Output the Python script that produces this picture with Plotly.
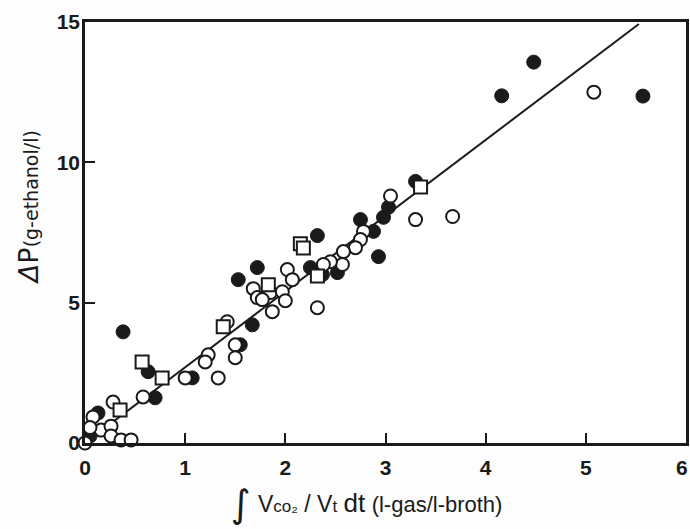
import plotly.graph_objects as go

# Filled circles
filled_x = [4.48, 4.16, 5.57, 3.30, 3.03, 2.98, 2.75, 2.88, 2.93, 2.32, 1.72, 1.53,
            2.25, 2.37, 2.52, 1.67, 0.38, 1.55, 1.07, 0.63, 0.70, 0.13, 0.05]
filled_y = [13.57, 12.37, 12.36, 9.32, 8.40, 8.04, 7.96, 7.54, 6.64, 7.39, 6.25, 5.82,
            6.25, 6.00, 6.07, 4.21, 3.96, 3.50, 2.32, 2.54, 1.61, 1.07, 0.25]

# Open circles
open_x = [5.08, 3.05, 3.30, 3.67, 2.78, 2.75, 2.70, 2.58, 2.57, 2.45, 2.38, 2.02,
          2.07, 1.68, 1.72, 1.85, 1.97, 2.00, 1.77, 1.87, 2.32, 1.42, 1.50, 1.50,
          1.23, 1.20, 1.33, 1.00, 0.58, 0.28, 0.08, 0.16, 0.26, 0.26, 0.36, 0.46,
          0.00, 0.10, 0.05]
open_y = [12.50, 8.80, 7.96, 8.07, 7.54, 7.25, 6.96, 6.82, 6.36, 6.46, 6.36, 6.18,
          5.82, 5.50, 5.18, 5.36, 5.39, 5.07, 5.11, 4.68, 4.82, 4.32, 3.50, 3.04,
          3.14, 2.89, 2.32, 2.32, 1.64, 1.46, 0.93, 0.46, 0.60, 0.25, 0.11, 0.11,
          0.00, -0.18, 0.55]

# Open squares
sq_x = [3.35, 2.15, 2.18, 2.32, 1.83, 1.38, 0.57, 0.77, 0.35]
sq_y = [9.12, 7.10, 6.95, 5.95, 5.64, 4.14, 2.89, 2.32, 1.18]

# Regression line
line_x = [0.0, 5.53]
line_y = [0.0, 14.93]

x_ticks = [0, 1, 2, 3, 4, 5, 6]
y_ticks = [0, 5, 10, 15]

ink = "#1a1a1a"
fam = "Liberation Sans, Arial"
fig = go.Figure()
fig.add_trace(go.Scatter(x=line_x, y=line_y, mode="lines",
                         line=dict(color=ink, width=2), cliponaxis=False,
                         showlegend=False))
fig.add_trace(go.Scatter(x=filled_x, y=filled_y, mode="markers", cliponaxis=False,
                         marker=dict(symbol="circle", size=14, color=ink,
                                     line=dict(color=ink, width=1)),
                         showlegend=False))
fig.add_trace(go.Scatter(x=open_x, y=open_y, mode="markers", cliponaxis=False,
                         marker=dict(symbol="circle", size=13, color="white",
                                     line=dict(color=ink, width=2)),
                         showlegend=False))
fig.add_trace(go.Scatter(x=sq_x, y=sq_y, mode="markers", cliponaxis=False,
                         marker=dict(symbol="square", size=13, color="white",
                                     line=dict(color=ink, width=2)),
                         showlegend=False))

tickfont = dict(family=fam, size=21, color=ink, weight="bold")
fig.update_xaxes(range=[0, 6], tickvals=x_ticks[:-1],
                 ticktext=[str(v) for v in x_ticks[:-1]],
                 ticks="inside", ticklen=10, tickwidth=2, tickcolor=ink,
                 showline=True, linewidth=2.5, linecolor=ink, mirror=True,
                 showgrid=False, zeroline=False, tickfont=tickfont,
                 ticklabelstandoff=4)
fig.update_yaxes(range=[0, 15], tickvals=y_ticks,
                 ticktext=[str(v) for v in y_ticks],
                 ticks="inside", ticklen=10, tickwidth=2, tickcolor=ink,
                 showline=True, linewidth=2.5, linecolor=ink, mirror=True,
                 showgrid=False, zeroline=False, tickfont=tickfont,
                 ticklabelstandoff=-2)

# last x tick label, kept just inside the right edge
fig.add_annotation(x=x_ticks[-1], y=0, xref="x", yref="y", yshift=-24, xshift=4,
                   text=str(x_ticks[-1]), showarrow=False, xanchor="right",
                   yanchor="middle", font=tickfont)

fig.add_annotation(xref="paper", yref="paper", x=-0.095, y=0.56,
                   text="<i>Δ</i>P<span style='font-size:19px'>(g-ethanol/l)</span>",
                   textangle=-90, showarrow=False, xanchor="center", yanchor="middle",
                   font=dict(family="DejaVu Sans", size=27, color=ink))
fig.add_annotation(xref="paper", yref="paper", x=(241 - 85) / 601, y=(443 - 504) / 421,
                   text="∫", showarrow=False, xanchor="center", yanchor="middle",
                   font=dict(family="DejaVu Sans", size=38, color=ink))
fig.add_annotation(xref="paper", yref="paper", x=(256 - 85) / 601, y=(443 - 503) / 421,
                   text="V<span style='font-size:17px'>co₂</span> / V<span style='font-size:17px'>t</span> "
                        "<span style='font-size:26px'>dt</span> "
                        "<span style='font-size:22px'>(l-gas/l-broth)</span>",
                   showarrow=False, xanchor="left", yanchor="middle",
                   font=dict(family=fam, size=23, color=ink))

fig.update_layout(width=690, height=529,
                  margin=dict(l=85, r=4, t=22, b=86, autoexpand=False),
                  plot_bgcolor="white", paper_bgcolor="#fdfdfd")
fig.write_html("out.html")
